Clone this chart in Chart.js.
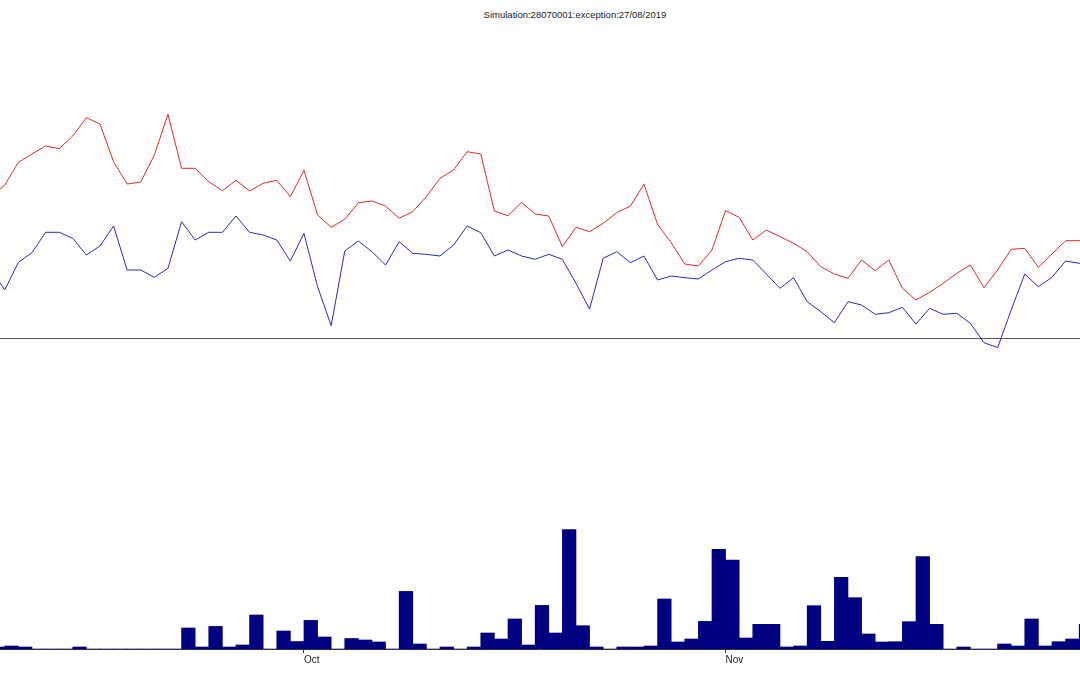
<!DOCTYPE html>
<html>
<head>
<meta charset="utf-8">
<script src="https://cdn.jsdelivr.net/npm/chart.js@4.4.1/dist/chart.umd.min.js"></script>
<style>
    body { margin: 0; background: #fff; width: 1080px; height: 675px; overflow: hidden; position: relative; font-family: "Liberation Sans", Arial, sans-serif; }
    #title { position: absolute; left: 425px; top: 9px; width: 300px; text-align: center; font-size: 9.5px; color: #222; white-space: nowrap; }
    #top { position: absolute; left: 0; top: 0; width: 1080px; height: 400px; }
    #bottom { position: absolute; left: 0; top: 400px; width: 1080px; height: 275px; }
</style>
</head>
<body>
<div id="title">Simulation:28070001:exception:27/08/2019</div>
<div id="top"><canvas id="lineChart"></canvas></div>
<div id="bottom"><canvas id="barChart"></canvas></div>
<script>
// days counted from 1 Oct (day 0), first point is 23 days before
const firstDay = -23;

// tick labels on the bottom axis
const tickDays = [0, 31];
const tickLabels = ['Oct', 'Nov'];

// upper series (0 = black reference line)
const redSeries = [
    141, 153, 175.7, 184, 192, 189.3, 202, 220.3, 214, 176.3, 154, 156, 183, 223.7, 169.7, 169.7,
    156.3, 147.3, 157.7, 147, 154.7, 157.7, 141.3, 167.7, 123, 110.7, 118.7, 135.3, 137, 132,
    119.7, 126.3, 141.3, 159.7, 168, 186.3, 184, 127, 122.3, 135.7, 124, 122, 91.3, 110.7, 106.3,
    114.7, 125.3, 132, 153.7, 113.7, 95.3, 74, 72, 88, 127.3, 120.7, 98, 108, 101.3, 94.7, 86.3,
    71.3, 64, 59.7, 78, 67.3, 78, 49.7, 38, 45.7, 54.7, 64.7, 73, 50.3, 68, 88.7, 89.7, 70.7, 84,
    97.3, 97.3, 97.3
];
const blueSeries = [
    68, 48, 75.7, 85.3, 105.7, 105.7, 99.7, 83, 92, 112, 68, 68, 60.7, 69.7, 116.3, 98,
    105.7, 105.7, 122, 105.7, 103, 98, 77, 104.7, 51.3, 12.3, 87, 97, 86.3, 73,
    96.3, 84.7, 83.7, 82, 93, 112, 105.3, 82, 88, 82, 78.7, 83.7, 78.7, 54.7, 29,
    79.7, 86.3, 75.3, 82, 58, 62, 60.3, 59, 68, 76.3, 79.7, 78, 64, 49.7, 60.3, 36.3,
    26.3, 15.3, 36.3, 33, 23.7, 25.3, 30.7, 14, 29.7, 23.7, 24.7, 14.7, -4.7, -9.7, 28, 64, 51.3, 60.7,
    77, 74.7, 74.7
];

// daily counts, lower panel
const barValues = [
    2, 3, 2, 0, 0, 0, 2, 0, 0, 0, 0, 0, 0, 0, 21, 2, 22.6, 2, 4, 34, 0, 18, 7.5,
    28.6, 12, 0, 10.5, 9, 7, 0, 57.6, 5, 0, 2, 0, 2, 16, 10, 30, 4, 43.6, 16, 119.3, 23.3, 2, 0, 2, 2, 3, 50, 7, 10, 27.6, 99.7,
    89, 11, 24.7, 24.7, 2, 3, 43.3, 7.7, 71.7, 51.3, 15, 7, 7.3, 27.3, 92.3, 24.7, 0, 2, 0, 0, 5, 3, 30, 3, 7.3, 10, 24.7
];

const xMin = -22.35, xMax = 57.06;

Chart.defaults.font.family = '"Liberation Sans", Arial, sans-serif';
Chart.defaults.animation = false;

const toPoints = (arr, shift) => arr.map((v, i) => ({ x: firstDay + i + shift, y: v }));

new Chart(document.getElementById('lineChart'), {
    type: 'line',
    data: {
        datasets: [
            { data: toPoints(redSeries, 0), borderColor: 'rgb(225,40,40)', borderWidth: 1, pointRadius: 0, tension: 0 },
            { data: toPoints(blueSeries, 0), borderColor: 'rgb(40,40,190)', borderWidth: 1, pointRadius: 0, tension: 0 }
        ]
    },
    options: {
        responsive: true,
        maintainAspectRatio: false,
        plugins: { legend: { display: false }, tooltip: { enabled: false } },
        scales: {
            x: { type: 'linear', min: xMin, max: xMax, display: false },
            y: {
                min: -62, max: 338,
                ticks: { display: false },
                border: { display: false },
                grid: { color: '#555', drawTicks: false },
                afterBuildTicks: s => { s.ticks = [{ value: 0 }]; },
                afterFit: s => { s.width = 0; }
            }
        }
    }
});

new Chart(document.getElementById('barChart'), {
    type: 'bar',
    data: {
        datasets: [{
            data: toPoints(barValues, 0.5),
            backgroundColor: '#000080',
            borderWidth: 0,
            barPercentage: 1,
            categoryPercentage: 1
        }]
    },
    options: {
        responsive: true,
        maintainAspectRatio: false,
        plugins: { legend: { display: false }, tooltip: { enabled: false } },
        scales: {
            x: {
                type: 'linear', min: xMin, max: xMax, offset: false,
                grid: { offset: false, drawOnChartArea: false, tickLength: 4, color: '#333' },
                border: { color: '#333' },
                ticks: {
                    align: 'start', padding: 1, color: '#222', font: { size: 10 },
                    callback: v => tickLabels[tickDays.indexOf(v)]
                },
                afterBuildTicks: s => { s.ticks = tickDays.map(v => ({ value: v })); },
                afterFit: s => { s.height = 26; }
            },
            y: { min: 0, max: 249, display: false }
        }
    }
});
</script>
</body>
</html>
